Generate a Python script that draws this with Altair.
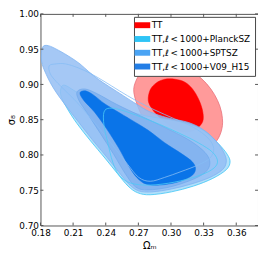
import altair as alt
import pandas as pd

# ---------------- axis ticks / legend ----------------
om_ticks = [0.18, 0.21, 0.24, 0.27, 0.30, 0.33, 0.36]
s8_ticks = [0.70, 0.75, 0.80, 0.85, 0.90, 0.95, 1.00]

labels = ["TT", "TT,ℓ\u2009<\u20091000+PlanckSZ", "TT,ℓ\u2009<\u20091000+SPTSZ", "TT,ℓ\u2009<\u20091000+V09_H15"]
legend_colors = ["#ff0000", "#2ec4f6", "#4aa4f4", "#237ee6"]

# ---------------- contour vertices (Omega_m, sigma_8) ----------------
# TT 95%
tt95_om = [0.2659, 0.2676, 0.2729, 0.2809, 0.2915, 0.3039, 0.3163, 0.3278, 0.3366, 0.3428,
           0.3464, 0.3473, 0.3437, 0.3366, 0.3269, 0.3163, 0.3030, 0.2897, 0.2791, 0.2712]
tt95_s8 = [0.8882, 0.9045, 0.9168, 0.9250, 0.9291, 0.9277, 0.9209, 0.9086, 0.8936, 0.8773,
           0.8609, 0.8418, 0.8241, 0.8118, 0.8050, 0.8050, 0.8118, 0.8241, 0.8418, 0.8623]
# TT 68%
tt68_om = [0.2791, 0.2809, 0.2862, 0.2942, 0.3039, 0.3128, 0.3198, 0.3251,
           0.3287, 0.3296, 0.3260, 0.3190, 0.3092, 0.2986, 0.2889, 0.2827]
tt68_s8 = [0.8773, 0.8923, 0.9018, 0.9073, 0.9073, 0.9032, 0.8936, 0.8800,
           0.8650, 0.8500, 0.8405, 0.8336, 0.8336, 0.8418, 0.8541, 0.8650]
# PlanckSZ 95%
psz95_om = [0.2012, 0.2145, 0.2322, 0.2543, 0.2765, 0.2986, 0.3181, 0.3322, 0.3437, 0.3517,
            0.3543, 0.3508, 0.3384, 0.3207, 0.3004, 0.2809, 0.2694, 0.2605, 0.2508, 0.2393,
            0.2260, 0.2136, 0.2039, 0.1986]
psz95_s8 = [0.8991, 0.8882, 0.8759, 0.8650, 0.8555, 0.8500, 0.8432, 0.8323, 0.8159, 0.8009,
            0.7900, 0.7791, 0.7668, 0.7559, 0.7477, 0.7436, 0.7464, 0.7559, 0.7736, 0.7955,
            0.8200, 0.8445, 0.8677, 0.8855]
# SPTSZ 95%
spt95_om = [0.1818, 0.1871, 0.1968, 0.2074, 0.2163, 0.2243, 0.2331, 0.2437, 0.2561, 0.2685,
            0.2809, 0.2968, 0.3163, 0.3305, 0.3420, 0.3490, 0.3508, 0.3473, 0.3358, 0.3181,
            0.3004, 0.2827, 0.2703, 0.2614, 0.2517, 0.2411, 0.2278, 0.2154, 0.2030, 0.1924,
            0.1853, 0.1809]
spt95_s8 = [0.9523, 0.9550, 0.9482, 0.9386, 0.9291, 0.9182, 0.9073, 0.8964, 0.8841, 0.8718,
            0.8609, 0.8527, 0.8459, 0.8350, 0.8186, 0.8023, 0.7900, 0.7791, 0.7682, 0.7586,
            0.7518, 0.7477, 0.7491, 0.7586, 0.7764, 0.7968, 0.8214, 0.8459, 0.8705, 0.8936,
            0.9141, 0.9332]
# V09_H15 95%
v0995_om = [0.2136, 0.2207, 0.2322, 0.2499, 0.2720, 0.2942, 0.3163, 0.3313, 0.3358, 0.3313,
            0.3181, 0.2986, 0.2791, 0.2676, 0.2579, 0.2473, 0.2349, 0.2234, 0.2154]
v0995_s8 = [0.8895, 0.8936, 0.8868, 0.8718, 0.8555, 0.8391, 0.8214, 0.8036, 0.7886, 0.7750,
            0.7641, 0.7545, 0.7505, 0.7545, 0.7736, 0.8009, 0.8309, 0.8582, 0.8773]
# V09_H15 68%
v0968_om = [0.2163, 0.2216, 0.2296, 0.2384, 0.2499, 0.2632, 0.2791, 0.2942, 0.3092, 0.3198,
            0.3225, 0.3181, 0.3057, 0.2897, 0.2773, 0.2685, 0.2605, 0.2517, 0.2411, 0.2296,
            0.2198]
v0968_s8 = [0.8882, 0.8909, 0.8841, 0.8732, 0.8623, 0.8500, 0.8350, 0.8173, 0.8023, 0.7900,
            0.7791, 0.7695, 0.7614, 0.7573, 0.7586, 0.7682, 0.7859, 0.8105, 0.8364, 0.8609,
            0.8773]
# SPTSZ 68%
spt68_om = [0.1880, 0.1942, 0.2030, 0.2145, 0.2260, 0.2384, 0.2526, 0.2676, 0.2853, 0.3030,
            0.3207, 0.3340, 0.3393, 0.3358, 0.3251, 0.3092, 0.2942, 0.2809, 0.2703, 0.2605,
            0.2499, 0.2384, 0.2260, 0.2136, 0.2030, 0.1942, 0.1889]
spt68_s8 = [0.9264, 0.9291, 0.9291, 0.9236, 0.9155, 0.9045, 0.8909, 0.8773, 0.8636, 0.8514,
            0.8391, 0.8241, 0.8091, 0.7955, 0.7859, 0.7764, 0.7682, 0.7627, 0.7682, 0.7859,
            0.8064, 0.8295, 0.8527, 0.8745, 0.8909, 0.9045, 0.9155]
# PlanckSZ 68%
psz68_om = [0.2384, 0.2437, 0.2543, 0.2720, 0.2897, 0.3075, 0.3251, 0.3384, 0.3428,
            0.3375, 0.3234, 0.3030, 0.2809, 0.2632, 0.2526, 0.2464, 0.2419, 0.2384]
psz68_s8 = [0.8609, 0.8664, 0.8636, 0.8541, 0.8432, 0.8309, 0.8173, 0.8036, 0.7900,
            0.7791, 0.7695, 0.7614, 0.7573, 0.7600, 0.7709, 0.7900, 0.8173, 0.8418]

W, H = 221, 215
FONT = "DejaVu Sans"

X = alt.X("x:Q", title="Ωₘ",
          scale=alt.Scale(domain=[0.18, 0.38], nice=False, zero=False),
          axis=alt.Axis(values=om_ticks, format=".2f", ticks=False, domain=False, grid=False,
                        labelFlush=False, labelOverlap=False, labelPadding=3, titlePadding=3))
Y = alt.Y("y:Q", title="σ₈",
          scale=alt.Scale(domain=[0.70, 1.00], nice=False, zero=False),
          axis=alt.Axis(values=s8_ticks, format=".2f", ticks=False, domain=False, grid=False,
                        labelFlush=False, labelOverlap=False, labelPadding=2, titlePadding=2))


def poly(om, s8, **style):
    df = pd.DataFrame({"x": om, "y": s8, "i": list(range(len(om)))})
    return alt.Chart(df).mark_line(interpolate="cardinal-closed", clip=True, **style).encode(
        x=X, y=Y, order=alt.Order("i:Q"))


layers = [
    poly(tt95_om, tt95_s8, fill="#ff9a9a", stroke="#e8707a", strokeWidth=0.8),
    poly(tt68_om, tt68_s8, fill="#ff0000", stroke="#ff0000", strokeWidth=0.5),
    poly(psz95_om, psz95_s8, fill="#a9dcfa", fillOpacity=0.9, stroke="#3cc6f6", strokeWidth=0.8),
    poly(spt95_om, spt95_s8, fill="#95bef3", fillOpacity=0.85, stroke="#7fb4f2", strokeWidth=0.8),
    poly(v0995_om, v0995_s8, fill="#82b3ef", fillOpacity=0.9, stroke="#6aa5ea", strokeWidth=0.6),
    poly(v0968_om, v0968_s8, fill="#0a74e8", stroke="#0a74e8", strokeWidth=0.5),
    poly(spt68_om, spt68_s8, stroke="#86bdf5", strokeWidth=0.8),
    poly(psz68_om, psz68_s8, stroke="#4ccbf6", strokeWidth=0.8),
]

# inward tick marks on all four sides
xt = pd.DataFrame({"x": om_ticks})
yt = pd.DataFrame({"y": s8_ticks})
tick_style = dict(color="#555555", strokeWidth=1)
layers += [
    alt.Chart(xt).mark_rule(**tick_style).encode(x=X, y=alt.value(0), y2=alt.value(3)),
    alt.Chart(xt).mark_rule(**tick_style).encode(x=X, y=alt.value(H - 3), y2=alt.value(H)),
    alt.Chart(yt).mark_rule(**tick_style).encode(y=Y, x=alt.value(0), x2=alt.value(3)),
    alt.Chart(yt).mark_rule(**tick_style).encode(y=Y, x=alt.value(W - 3), x2=alt.value(W)),
]

# legend (dummy points outside the plotted range, clipped away)
leg_df = pd.DataFrame({"x": [0.5] * 4, "y": [0.5] * 4, "key": labels})
legend_layer = alt.Chart(leg_df).mark_square(clip=True, opacity=1, filled=True).encode(
    x=X, y=Y,
    color=alt.Color("key:N", scale=alt.Scale(domain=labels, range=legend_colors),
                    legend=alt.Legend(title=None, orient="top-right", offset=3,
                                      symbolType="M-2,-0.75H2V0.75H-2Z", symbolSize=64,
                                      symbolStrokeWidth=0, labelFontSize=9, labelFont=FONT,
                                      labelOffset=5, rowPadding=4, padding=4,
                                      strokeColor="#444444", fillColor="white",
                                      cornerRadius=0)))
layers.append(legend_layer)

chart = alt.layer(*layers).properties(
    width=W, height=H, autosize="none",
    padding={"left": 33, "top": 4, "right": 0, "bottom": 29},
).configure_view(stroke="#555555", strokeWidth=1).configure_axis(
    labelFont=FONT, labelFontSize=9, labelColor="black",
    titleFont=FONT, titleFontSize=10, titleFontWeight="normal", titleColor="black",
)

chart.save("out.html", embed_options={"renderer": "svg", "actions": False})
